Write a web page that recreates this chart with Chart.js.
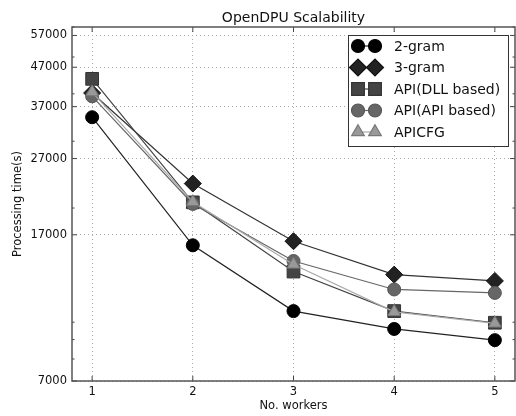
<!DOCTYPE html>
<html>
<head>
<meta charset="utf-8">
<script src="https://cdn.jsdelivr.net/npm/chart.js@4"></script>
<style>
  html, body { margin: 0; padding: 0; background: #fff; }
  canvas { display: block; }
</style>
</head>
<body>
<canvas id="c" width="516" height="416"></canvas>
<script>
// values (log y axis)
const workers = [1, 2, 3, 4, 5]
const gram2 = [34700, 15950, 10700, 9600, 8970]
const gram3 = [40200, 23200, 16350, 13350, 12850]
const apiDll = [43800, 20700, 13600, 10700, 9970]
const apiApi = [39400, 20500, 14500, 12200, 11950]
const apiCfg = [40400, 20750, 14200, 10650, 9930]

const seriesNames = ["2-gram", "3-gram", "API(DLL based)", "API(API based)", "APICFG"]
const yMajor = [7000, 17000, 27000, 37000, 47000, 57000]
const yMinor = [8000, 9000, 10000, 20000, 30000, 40000, 50000, 60000]

const FONT = "'DejaVu Sans', sans-serif"

// marker styles per series
const styles = [
  { line: "#222", fill: "#000", edge: "#000", shape: "circle", r: 6.5 },
  { line: "#333", fill: "#222", edge: "#111", shape: "rectRot", r: 8.5 },
  { line: "#444", fill: "#444", edge: "#333", shape: "rect", r: 9 },
  { line: "#666", fill: "#666", edge: "#555", shape: "circle", r: 6.5 },
  { line: "#aaa", fill: "#999", edge: "#777", shape: "triangle", r: 7.3 }
]

const allValues = [gram2, gram3, apiDll, apiApi, apiCfg]

const datasets = allValues.map((vals, i) => ({
  label: seriesNames[i],
  data: workers.map((w, j) => ({ x: w, y: vals[j] })),
  borderColor: styles[i].line,
  borderWidth: 1.2,
  backgroundColor: styles[i].fill,
  pointBackgroundColor: styles[i].fill,
  pointBorderColor: styles[i].edge,
  pointBorderWidth: 1,
  pointStyle: styles[i].shape,
  pointRadius: styles[i].r,
  pointHoverRadius: styles[i].r,
  tension: 0,
  fill: false,
  order: allValues.length - i  // later series drawn on top, like matplotlib
}))

// frame, inward ticks, title and legend
const decorations = {
  id: "decorations",
  afterDatasetsDraw(chart) {
    const { ctx, chartArea: a, scales } = chart
    ctx.save()
    ctx.strokeStyle = "#444"
    ctx.lineWidth = 1
    ctx.beginPath()
    yMajor.concat(yMinor).forEach(v => {
      const y = scales.y.getPixelForValue(v)
      const len = yMajor.includes(v) ? 5 : 2.5
      ctx.moveTo(a.left, y); ctx.lineTo(a.left + len, y)
      ctx.moveTo(a.right, y); ctx.lineTo(a.right - len, y)
    })
    workers.forEach(w => {
      const x = scales.x.getPixelForValue(w)
      ctx.moveTo(x, a.bottom); ctx.lineTo(x, a.bottom - 5)
      ctx.moveTo(x, a.top); ctx.lineTo(x, a.top + 5)
    })
    ctx.stroke()

    ctx.strokeStyle = "#555"
    ctx.lineWidth = 1.5
    ctx.strokeRect(a.left, a.top, a.right - a.left, a.bottom - a.top)

    // title
    ctx.fillStyle = "#111"
    ctx.font = "14px " + FONT
    ctx.textAlign = "center"
    ctx.textBaseline = "alphabetic"
    ctx.fillText("OpenDPU Scalability", (a.left + a.right) / 2, 22)

    // legend box
    const bx = 348, by = 35, bw = 160, bh = 111
    ctx.fillStyle = "#fff"
    ctx.fillRect(bx, by, bw, bh)
    ctx.strokeStyle = "#333"
    ctx.lineWidth = 1
    ctx.strokeRect(bx + 0.5, by + 0.5, bw, bh)
    ctx.font = "14px " + FONT
    ctx.textAlign = "left"
    ctx.textBaseline = "middle"
    chart.data.datasets.forEach((ds, i) => {
      const y = 46 + i * 21.5
      ctx.strokeStyle = ds.borderColor
      ctx.lineWidth = 1.2
      ctx.beginPath()
      ctx.moveTo(358, y); ctx.lineTo(375, y)
      ctx.stroke()
      const st = { pointStyle: ds.pointStyle, radius: ds.pointRadius, rotation: 0, borderWidth: 1 }
      ctx.fillStyle = ds.pointBackgroundColor
      ctx.strokeStyle = ds.pointBorderColor
      Chart.helpers.drawPoint(ctx, st, 358, y)
      Chart.helpers.drawPoint(ctx, st, 375, y)
      ctx.fillStyle = "#111"
      ctx.fillText(ds.label, 394, y + 1)
    })
    ctx.restore()
  }
}

new Chart(document.getElementById("c"), {
  type: "line",
  data: { datasets },
  options: {
    responsive: false,
    animation: false,
    events: [],
    // big markers would otherwise push the plot area in by their radius
    layout: { autoPadding: false, padding: { top: 27, right: 1, left: 0, bottom: 0 } },
    plugins: {
      legend: { display: false },
      title: { display: false },
      tooltip: { enabled: false }
    },
    scales: {
      x: {
        type: "linear",
        min: 0.8,
        max: 5.2,
        afterBuildTicks: s => { s.ticks = workers.map(v => ({ value: v })) },
        afterFit: s => { s.height = 35; s.paddingLeft = 0; s.paddingRight = 0 },
        grid: { color: "#aaa", lineWidth: 1, drawTicks: false },
        border: { display: false, dash: [1, 3] },
        ticks: { color: "#111", font: { family: FONT, size: 11.5 }, padding: 4 },
        title: { display: true, text: "No. workers", color: "#111", font: { family: FONT, size: 11.5 }, padding: { top: 0, bottom: 3 } }
      },
      y: {
        type: "logarithmic",
        min: 7000,
        max: 60000,
        afterBuildTicks: s => {
          s.ticks = yMajor.concat(yMinor).sort((p, q) => p - q).map(v => ({ value: v }))
        },
        afterFit: s => { s.width = 72; s.paddingTop = 0; s.paddingBottom = 0 },
        grid: {
          color: c => yMajor.includes(c.tick && c.tick.value) ? "#aaa" : "rgba(0,0,0,0)",
          lineWidth: 1,
          drawTicks: false
        },
        border: { display: false, dash: [1, 3] },
        ticks: {
          color: "#111",
          font: { family: FONT, size: 11.5 },
          padding: 5,
          autoSkip: false,
          callback: v => yMajor.includes(v) ? String(v) : ""
        },
        title: { display: true, text: "Processing time(s)", color: "#111", font: { family: FONT, size: 11.5 }, padding: { top: 11, bottom: 0 } }
      }
    }
  },
  plugins: [decorations]
})
</script>
</body>
</html>
